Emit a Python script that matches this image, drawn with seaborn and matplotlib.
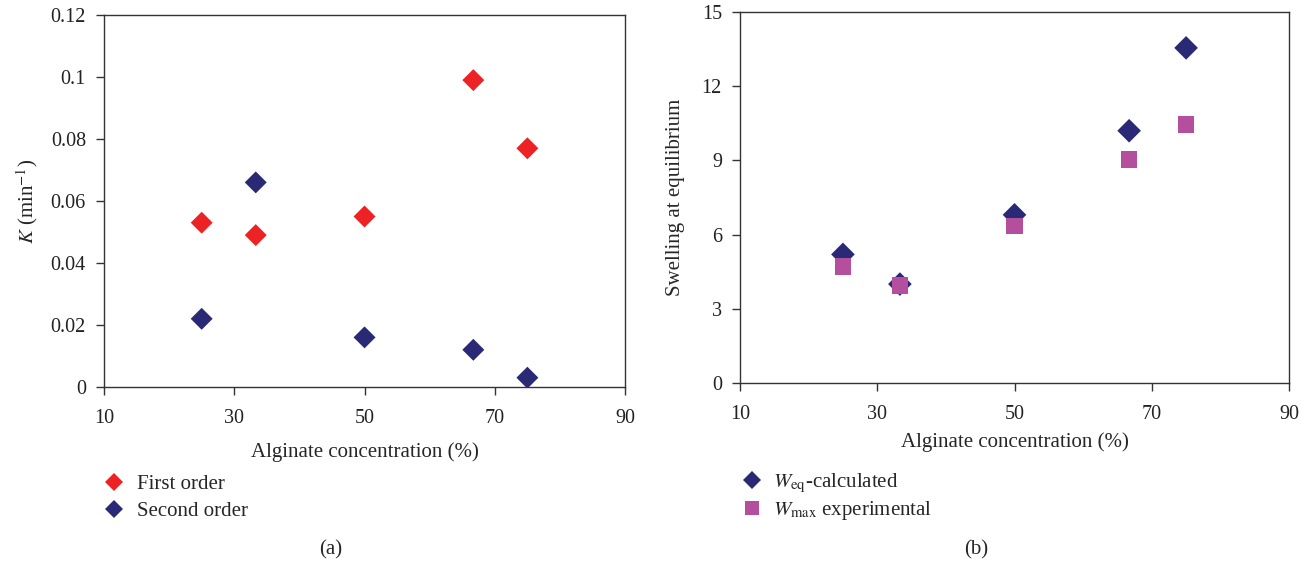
import pandas as pd
import matplotlib
matplotlib.use("Agg")
import matplotlib.pyplot as plt
import seaborn as sns

# alginate concentrations (%)
conc = [25, 33.3, 50, 66.7, 75]

# (a) rate constants K (min^-1)
first_order = [0.053, 0.049, 0.055, 0.099, 0.077]
second_order = [0.022, 0.066, 0.016, 0.012, 0.003]

# (b) swelling at equilibrium
w_eq_calc = [5.2, 4.0, 6.8, 10.2, 13.55]
w_max_exp = [4.7, 3.95, 6.35, 9.05, 10.45]

x_ticks = [10, 30, 50, 70, 90]
ka_ticks = [0, 0.02, 0.04, 0.06, 0.08, 0.1, 0.12]
ka_labels = ["0", "0.02", "0.04", "0.06", "0.08", "0.1", "0.12"]
kb_ticks = [0, 3, 6, 9, 12, 15]

RED = "#ED2224"
NAVY = "#2A2975"
MAGENTA = "#B44F9E"

sns.set_style("ticks")
plt.rcParams["font.family"] = ["Liberation Serif", "DejaVu Serif"]
plt.rcParams["mathtext.fontset"] = "stix"
plt.rcParams["axes.edgecolor"] = "#333333"
plt.rcParams["xtick.color"] = "#333333"
plt.rcParams["ytick.color"] = "#333333"
plt.rcParams["xtick.labelcolor"] = "#222222"
plt.rcParams["ytick.labelcolor"] = "#222222"

FS = 15
TS = 14.5

fig = plt.figure(figsize=(13.16, 5.67), dpi=100)
ax1 = fig.add_axes([0.079, 0.3175, 0.396, 0.656])
ax2 = fig.add_axes([0.5623, 0.3245, 0.4172, 0.6543])

# ---- panel (a)
lab1 = "First order"
lab2 = "Second order"
df_a = pd.DataFrame({
    "conc": conc + conc,
    "K": first_order + second_order,
    "order": [lab1] * len(conc) + [lab2] * len(conc),
})
sns.scatterplot(data=df_a, x="conc", y="K", hue="order", style="order",
                palette={lab1: RED, lab2: NAVY}, markers={lab1: "D", lab2: "D"},
                s=125, linewidth=0, ax=ax1, zorder=3)
ax1.set_xlim(10, 90)
ax1.set_ylim(0, 0.12)
ax1.set_xticks(x_ticks)
ax1.set_yticks(ka_ticks)
ax1.set_yticklabels(ka_labels)
ax1.set_xlabel("Alginate concentration (%)", fontsize=FS)
ax1.set_ylabel("$K$ (min$^{-1}$)", fontsize=FS)
ax1.xaxis.set_label_coords(0.5, -0.148)
ax1.yaxis.set_label_coords(-0.123, 0.5)
leg1 = ax1.legend(loc="upper left", bbox_to_anchor=(0.077, 0.163),
                  bbox_transform=fig.transFigure, frameon=False,
                  fontsize=FS, handletextpad=0.5, labelspacing=0.35,
                  borderaxespad=0, borderpad=0, handlelength=1.2)

# ---- panel (b)
labw1 = r"$W_{\mathrm{eq}}$-calculated"
labw2 = r"$W_{\mathrm{max}}$ experimental"
df_b = pd.DataFrame({
    "conc": conc + conc,
    "W": w_eq_calc + w_max_exp,
    "series": [labw1] * len(conc) + [labw2] * len(conc),
})
sns.scatterplot(data=df_b, x="conc", y="W", hue="series", style="series",
                palette={labw1: NAVY, labw2: MAGENTA}, markers={labw1: "D", labw2: "s"},
                s=145, linewidth=0, ax=ax2, zorder=3)
ax2.set_xlim(10, 90)
ax2.set_ylim(0, 15)
ax2.set_xticks(x_ticks)
ax2.set_yticks(kb_ticks)
ax2.set_xlabel("Alginate concentration (%)", fontsize=FS)
ax2.set_ylabel("Swelling at equilibrium", fontsize=FS)
ax2.xaxis.set_label_coords(0.5, -0.133)
ax2.yaxis.set_label_coords(-0.100, 0.5)
leg2 = ax2.legend(loc="upper left", bbox_to_anchor=(0.562, 0.168),
                  bbox_transform=fig.transFigure, frameon=False,
                  fontsize=FS, handletextpad=0.4, labelspacing=0.2,
                  borderaxespad=0, borderpad=0, handlelength=1.2)

for leg in (leg1, leg2):
    for h in leg.legend_handles:
        h.set_markersize(9.5)

for ax in (ax1, ax2):
    for sp in ax.spines.values():
        sp.set_visible(True)
        sp.set_linewidth(1.0)
    ax.tick_params(axis="both", direction="out", length=6, width=1.0,
                   labelsize=TS)
    ax.tick_params(axis="x", pad=10)
    ax.tick_params(axis="y", pad=7)

fig.text(0.251, 0.031, "(a)", ha="center", va="center", fontsize=FS)
fig.text(0.742, 0.031, "(b)", ha="center", va="center", fontsize=FS)

fig.savefig("out.png", dpi=100)
